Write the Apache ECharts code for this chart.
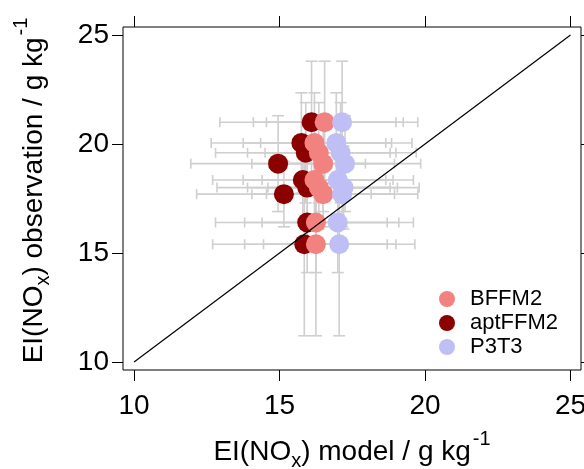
<!DOCTYPE html>
<html>
<head>
<meta charset="utf-8">
<script src="https://cdn.jsdelivr.net/npm/echarts@6/dist/echarts.min.js"></script>
<style>
  html, body { margin: 0; padding: 0; background: #fff; }
  #chart { width: 584px; height: 469px; }
</style>
</head>
<body>
<div id="chart"></div>
<script>
// observed EI(NOx), one row per case (shared by the three models)
const obsValues = [21.0, 20.05, 19.6, 19.1, 18.35, 18.0, 17.7, 16.4, 15.4];
const obsErr = [2.8, 2.3, 2.3, 2.2, 1.9, 1.9, 1.5, 2.3, 4.2];

// modelled EI(NOx) and its error for each model
const aptModel = [16.1, 15.75, 15.9, 14.95, 15.8, 15.95, 15.15, 15.95, 15.85];
const aptErr = [3.15, 3.1, 3.1, 3.0, 3.1, 3.1, 3.0, 3.15, 3.15];
const bffm2Model = [16.55, 16.2, 16.35, 16.5, 16.2, 16.35, 16.5, 16.25, 16.25];
const bffm2Err = [2.45, 2.45, 2.45, 2.45, 2.45, 2.45, 2.45, 2.45, 2.45];
const p3t3Model = [17.15, 16.95, 17.1, 17.25, 17.0, 17.2, 17.15, 17.0, 17.05];
const p3t3Err = [2.6, 2.6, 2.6, 2.6, 2.6, 2.6, 2.6, 2.6, 2.6];

const tickValues = [10, 15, 20, 25];
const oneToOne = [[10, 10], [25, 25]];

const legendNames = ["BFFM2", "aptFFM2", "P3T3"];
const colors = { BFFM2: "#f2827f", aptFFM2: "#8b0000", P3T3: "#bfbff6" };

const font = "Liberation Sans, Arial, sans-serif";

function points(model) {
  return model.map((x, i) => [x, obsValues[i]]);
}
function errRows(model, err) {
  return model.map((x, i) => [x, obsValues[i], err[i], obsErr[i]]);
}

// grey error bars with caps, both directions
function renderErr(params, api) {
  const x = api.value(0), y = api.value(1), xe = api.value(2), ye = api.value(3);
  const l = api.coord([x - xe, y]);
  const r = api.coord([x + xe, y]);
  const t = api.coord([x, y + ye]);
  const b = api.coord([x, y - ye]);
  const cap = 5;
  const style = { stroke: "#cfcfcf", lineWidth: 1.6 };
  const seg = (x1, y1, x2, y2) => ({ type: "line", shape: { x1, y1, x2, y2 }, style });
  return {
    type: "group",
    children: [
      seg(l[0], l[1], r[0], r[1]),
      seg(l[0], l[1] - cap, l[0], l[1] + cap),
      seg(r[0], r[1] - cap, r[0], r[1] + cap),
      seg(t[0], t[1], b[0], b[1]),
      seg(t[0] - cap - 1, t[1], t[0] + cap + 1, t[1]),
      seg(b[0] - cap - 1, b[1], b[0] + cap + 1, b[1]),
    ],
  };
}

// sub/superscript pieces of the axis titles
const rich = {
  sub: { fontSize: 20, fontFamily: font, color: "#000", verticalAlign: "bottom", lineHeight: 20, padding: [0, 0, 4, 0] },
  sup: { fontSize: 20, fontFamily: font, color: "#000", verticalAlign: "top", lineHeight: 20, padding: [0, 0, 0, 2] },
};
const titleStyle = { fontSize: 28, fontFamily: font, color: "#000", lineHeight: 46, rich };

const tickStyle = { show: true, inside: false, length: 11, lineStyle: { color: "#000", width: 1 }, customValues: tickValues };

const chart = echarts.init(document.getElementById("chart"));
chart.setOption({
  animation: false,
  backgroundColor: "#fff",
  grid: {
    left: 123, right: 3, top: 27, bottom: 99,
    containLabel: false, outerBoundsMode: "none",
    show: true, borderColor: "#000", borderWidth: 1, backgroundColor: "transparent",
  },
  legend: {
    data: legendNames,
    orient: "vertical",
    left: 434,
    top: 283,
    icon: "circle",
    itemWidth: 36,
    itemHeight: 16,
    itemGap: 2,
    textStyle: { fontSize: 22, fontFamily: font, color: "#000", lineHeight: 21 },
  },
  xAxis: [
    {
      type: "value", min: 9.62, max: 25.36, position: "bottom",
      axisLine: { show: false }, splitLine: { show: false },
      axisTick: tickStyle,
      axisLabel: { customValues: tickValues, fontSize: 28, fontFamily: font, color: "#000", margin: 22 },
      name: "EI(NO{sub|x}) model / g kg{sup|-1}",
      nameLocation: "middle", nameGap: 59,
      nameTextStyle: titleStyle,
    },
    {
      type: "value", min: 9.62, max: 25.36, position: "top",
      axisLine: { show: false }, splitLine: { show: false },
      axisTick: tickStyle, axisLabel: { show: false },
    },
  ],
  yAxis: [
    {
      type: "value", min: 9.63, max: 25.37, position: "left",
      axisLine: { show: false }, splitLine: { show: false },
      axisTick: tickStyle,
      axisLabel: { customValues: tickValues, fontSize: 28, fontFamily: font, color: "#000", margin: 14 },
      name: "EI(NO{sub|x}) observation / g kg{sup|-1}",
      nameLocation: "middle", nameGap: 66,
      nameTextStyle: Object.assign({}, titleStyle, { padding: [0, 0, 0, 16] }),
    },
    {
      type: "value", min: 9.63, max: 25.37, position: "right",
      axisLine: { show: false }, splitLine: { show: false },
      axisTick: tickStyle, axisLabel: { show: false },
    },
  ],
  series: [
    { type: "custom", name: "errApt", renderItem: renderErr, data: errRows(aptModel, aptErr), z: 1, silent: true },
    { type: "custom", name: "errBffm2", renderItem: renderErr, data: errRows(bffm2Model, bffm2Err), z: 1, silent: true },
    { type: "custom", name: "errP3t3", renderItem: renderErr, data: errRows(p3t3Model, p3t3Err), z: 1, silent: true },
    {
      type: "scatter", name: "aptFFM2", data: points(aptModel), symbolSize: 20, z: 3,
      itemStyle: { color: colors.aptFFM2, opacity: 1 },
    },
    {
      type: "scatter", name: "BFFM2", data: points(bffm2Model), symbolSize: 20, z: 4,
      itemStyle: { color: colors.BFFM2, opacity: 1 },
    },
    {
      type: "scatter", name: "P3T3", data: points(p3t3Model), symbolSize: 20, z: 4,
      itemStyle: { color: colors.P3T3, opacity: 1 },
    },
    {
      type: "line", name: "1:1", data: oneToOne, showSymbol: false, symbol: "none", z: 6,
      lineStyle: { color: "#000", width: 1.2 }, silent: true,
    },
  ],
});
</script>
</body>
</html>
